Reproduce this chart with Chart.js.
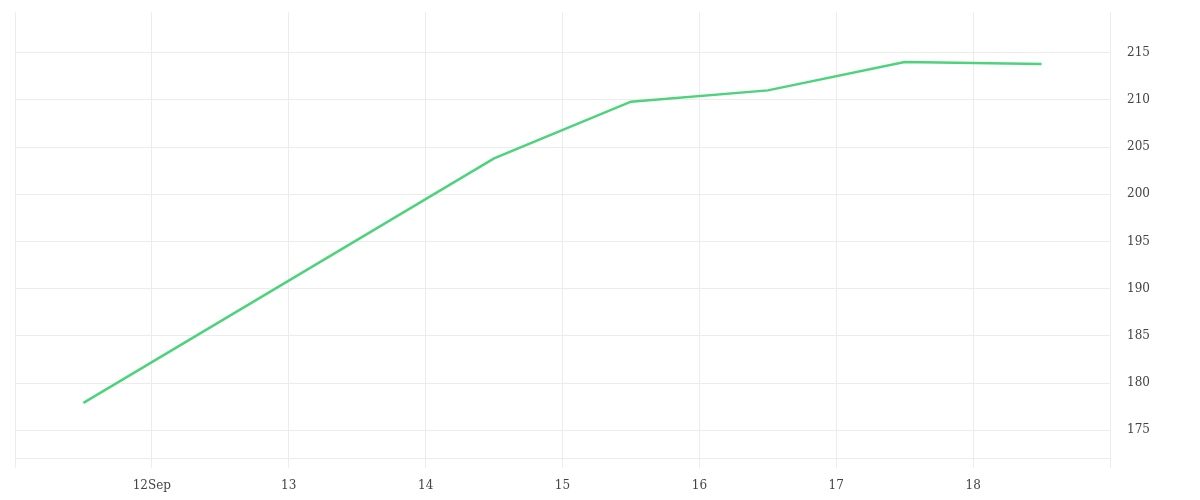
<!DOCTYPE html>
<html>
<head>
<meta charset="utf-8">
<script src="https://cdn.jsdelivr.net/npm/chart.js@4/dist/chart.umd.min.js"></script>
<style>
  html, body { margin: 0; padding: 0; background: #fff; }
  #wrap { width: 1200px; height: 500px; }
</style>
</head>
<body>
<div id="wrap"><canvas id="chart"></canvas></div>
<script>
// days of September, points sit at midday
const dayPositions = [11.5, 14.5, 15.5, 16.5, 17.5, 18.5];
const values = [177.9, 203.8, 209.8, 211.0, 214.0, 213.8];
const tickDays = [12, 13, 14, 15, 16, 17, 18];
const tickLabels = ['12Sep', '13', '14', '15', '16', '17', '18'];

const gridColor = '#ececec';
const textColor = '#444';

const points = dayPositions.map((d, i) => ({ x: d, y: values[i] }));

new Chart(document.getElementById('chart').getContext('2d'), {
    type: 'line',
    data: {
        datasets: [{
            data: points,
            borderColor: '#4cd37b',
            borderWidth: 2.5,
            pointRadius: 0,
            tension: 0,
            fill: false
        }]
    },
    options: {
        responsive: true,
        maintainAspectRatio: false,
        animation: false,
        layout: { padding: { left: 15, top: 12, right: 0, bottom: 0 } },
        plugins: {
            legend: { display: false },
            tooltip: { enabled: false }
        },
        scales: {
            x: {
                type: 'linear',
                min: 11,
                max: 19,
                grid: { color: gridColor, tickLength: 10, tickColor: gridColor },
                border: { color: gridColor },
                ticks: {
                    stepSize: 1,
                    maxRotation: 0,
                    padding: 11,
                    color: textColor,
                    font: { family: 'DejaVu Serif', size: 12 },
                    callback: v => {
                        const i = tickDays.indexOf(v);
                        return i >= 0 ? tickLabels[i] : '';
                    }
                },
                afterFit: s => { s.height = 42; s.paddingLeft = 0; s.paddingRight = 0; }
            },
            y: {
                position: 'right',
                min: 172.07,
                max: 219.3,
                grid: { color: gridColor, drawTicks: false },
                border: { display: false },
                ticks: {
                    stepSize: 5,
                    includeBounds: false,
                    padding: 17,
                    color: textColor,
                    font: { family: 'DejaVu Serif', size: 12 }
                },
                afterFit: s => { s.width = 90; s.paddingTop = 0; s.paddingBottom = 0; }
            }
        }
    }
});
</script>
</body>
</html>
